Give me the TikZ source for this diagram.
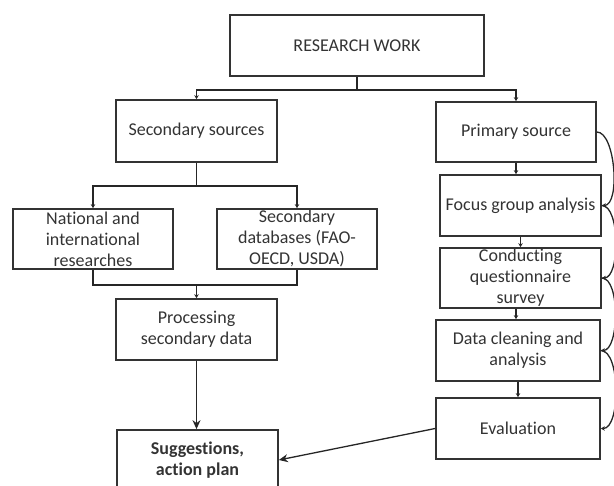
\documentclass[tikz,border=0pt]{standalone}
\usepackage{fontspec}
\setmainfont{Carlito}[Ligatures=NoCommon]
\usetikzlibrary{arrows.meta}
\begin{document}
\begin{tikzpicture}[x=1pt,y=-1pt,
  box/.style={draw=black!80, line width=1.7pt, inner sep=0pt, align=center,
    text=black!80, font=\fontsize{18}{21}\selectfont},
  conn/.style={line width=1.3pt, draw=black!85},
  sarr/.style={conn, -{Stealth[length=4pt,width=4.5pt]}},
  barr/.style={conn, -{Stealth[length=9pt,width=8pt]}},
  loop/.style={sarr, out=0, in=0, looseness=0.65}
]
\useasboundingbox (0,0) rectangle (614,486);

% boxes
\node[box, minimum width=254pt, minimum height=61pt] (rw) at (357,45.5) {RESEARCH WORK};
\node[box, minimum width=161pt, minimum height=62pt] (ss) at (196.5,131) {Secondary sources};
\node[box, minimum width=160pt, minimum height=60pt] (ps) at (516,132) {Primary source};
\node[box, minimum width=160pt, minimum height=60pt] (nat) at (93,239) {National and\\international\\researches};
\node[box, minimum width=160pt, minimum height=60pt] (db) at (297,239) {Secondary\\databases (FAO-\\OECD, USDA)};
\node[box, minimum width=161pt, minimum height=61pt] (proc) at (196.5,329.5) {Processing\\secondary data};
\node[box, minimum width=161pt, minimum height=60pt] (sug) at (197.5,460) {\bfseries Suggestions,\\\bfseries action plan};
\node[box, minimum width=161pt, minimum height=61pt] (fg) at (520.5,205.5) {Focus group analysis};
\node[box, minimum width=161pt, minimum height=60pt] (cq) at (520.5,278) {Conducting\\questionnaire\\survey};
\node[box, minimum width=164pt, minimum height=61pt] (dc) at (518,350.5) {Data cleaning and\\analysis};
\node[box, minimum width=164pt, minimum height=61pt] (ev) at (518,428.5) {Evaluation};

% tree connectors
\coordinate (j1) at (357,90);
\draw[sarr] (rw.south) -- (j1) -| (ss.north);
\draw[sarr] (j1) -| (ps.north);
\coordinate (j2) at (196.5,186);
\draw[sarr] (ss.south) -- (j2) -| (nat.north);
\draw[sarr] (j2) -| (db.north);
\coordinate (j3) at (196.5,285);
\draw[conn] (nat.south) |- (j3) -| (db.south);
\draw[sarr] (j3) -- (proc.north);
\draw[barr] (proc.south) -- (proc.south |- sug.north);
\draw[barr] (ev.west) -- (sug.east);

% right column
\draw[sarr] (ps.south) -- (ps.south |- fg.north);
\draw[sarr] (fg.south) -- (fg.south |- cq.north);
\draw[sarr] (ps.south |- cq.south) -- (ps.south |- dc.north);
\draw[sarr] (dc.south) -- (dc.south |- ev.north);

\draw[loop] (ps.east) to (fg.east);
\draw[loop] (fg.east) to (cq.east);
\draw[loop] (cq.east) to (dc.east);
\draw[loop] (dc.east) to (ev.east);
\end{tikzpicture}
\end{document}
